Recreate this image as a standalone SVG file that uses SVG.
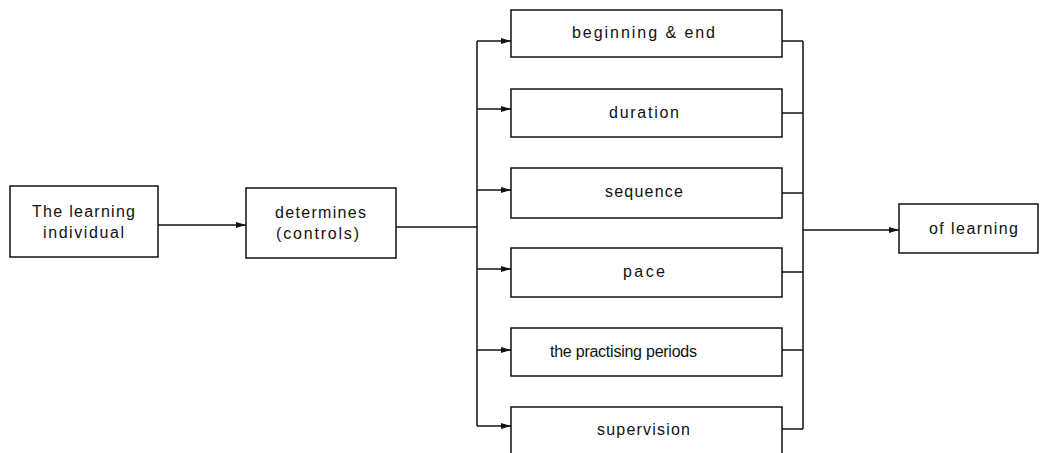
<svg xmlns="http://www.w3.org/2000/svg" width="1041" height="453" viewBox="0 0 1041 453">
  <style>
    .box { fill: #ffffff; stroke: #111111; stroke-width: 1.5; }
    .lbl { font-family: "Liberation Sans", Arial, sans-serif; font-size: 16px; fill: #111111; text-anchor: start; }
    .wire { fill: none; stroke: #111111; stroke-width: 1.5; }
    .arrow { fill: none; stroke: #111111; stroke-width: 1.5; marker-end: url(#head); }
  </style>
  <defs>
    <marker id="head" viewBox="0 0 10 6" refX="10" refY="3" markerWidth="10" markerHeight="6.5" markerUnits="userSpaceOnUse" orient="auto">
      <path d="M0,0 L10,3 L0,6 Z" fill="#111111"/>
    </marker>
  </defs>
  <rect width="1041" height="453" fill="#ffffff"/>

  <g id="connectors">
    <!-- learner -> determines -->
    <path class="arrow" d="M158,225 H246"/>
    <!-- determines -> fan-out trunk -->
    <path class="wire" d="M396,227 H477"/>
    <path class="wire" d="M477,41 V426"/>
    <path class="arrow" d="M477,41 H511"/>
    <path class="arrow" d="M477,109 H511"/>
    <path class="arrow" d="M477,190 H511"/>
    <path class="arrow" d="M477,269 H511"/>
    <path class="arrow" d="M477,350 H511"/>
    <path class="arrow" d="M477,426 H511"/>
    <!-- collector trunk on the right -->
    <path class="wire" d="M782,41 H803"/>
    <path class="wire" d="M782,113 H803"/>
    <path class="wire" d="M782,193 H803"/>
    <path class="wire" d="M782,272 H803"/>
    <path class="wire" d="M782,350 H803"/>
    <path class="wire" d="M782,429 H803"/>
    <path class="wire" d="M803,41 V429"/>
    <path class="arrow" d="M803,230 H899"/>
  </g>

  <g id="learner">
    <rect class="box" x="10" y="186" width="148" height="71"/>
    <text class="lbl" x="32" y="217" textLength="103" lengthAdjust="spacing">The learning</text>
    <text class="lbl" x="43" y="238" textLength="81" lengthAdjust="spacing">individual</text>
  </g>

  <g id="determines">
    <rect class="box" x="246" y="188" width="150" height="70"/>
    <text class="lbl" x="275" y="218" textLength="91" lengthAdjust="spacing">determines</text>
    <text class="lbl" x="276" y="239" textLength="83" lengthAdjust="spacing">(controls)</text>
  </g>

  <g id="beginning-end">
    <rect class="box" x="511" y="10" width="271" height="47"/>
    <text class="lbl" x="572" y="38" textLength="143" lengthAdjust="spacing">beginning &amp; end</text>
  </g>

  <g id="duration">
    <rect class="box" x="511" y="89" width="271" height="48"/>
    <text class="lbl" x="609" y="118" textLength="70" lengthAdjust="spacing">duration</text>
  </g>

  <g id="sequence">
    <rect class="box" x="511" y="168" width="271" height="50"/>
    <text class="lbl" x="605" y="197" textLength="78" lengthAdjust="spacing">sequence</text>
  </g>

  <g id="pace">
    <rect class="box" x="511" y="248" width="271" height="49"/>
    <text class="lbl" x="623" y="277" textLength="42" lengthAdjust="spacing">pace</text>
  </g>

  <g id="practising-periods">
    <rect class="box" x="511" y="328" width="271" height="48"/>
    <text class="lbl" x="550" y="357" textLength="147" lengthAdjust="spacing">the practising periods</text>
  </g>

  <g id="supervision">
    <rect class="box" x="511" y="407" width="271" height="50"/>
    <text class="lbl" x="597" y="435" textLength="93" lengthAdjust="spacing">supervision</text>
  </g>

  <g id="of-learning">
    <rect class="box" x="899" y="204" width="139" height="49"/>
    <text class="lbl" x="929" y="234" textLength="89" lengthAdjust="spacing">of learning</text>
  </g>
</svg>
